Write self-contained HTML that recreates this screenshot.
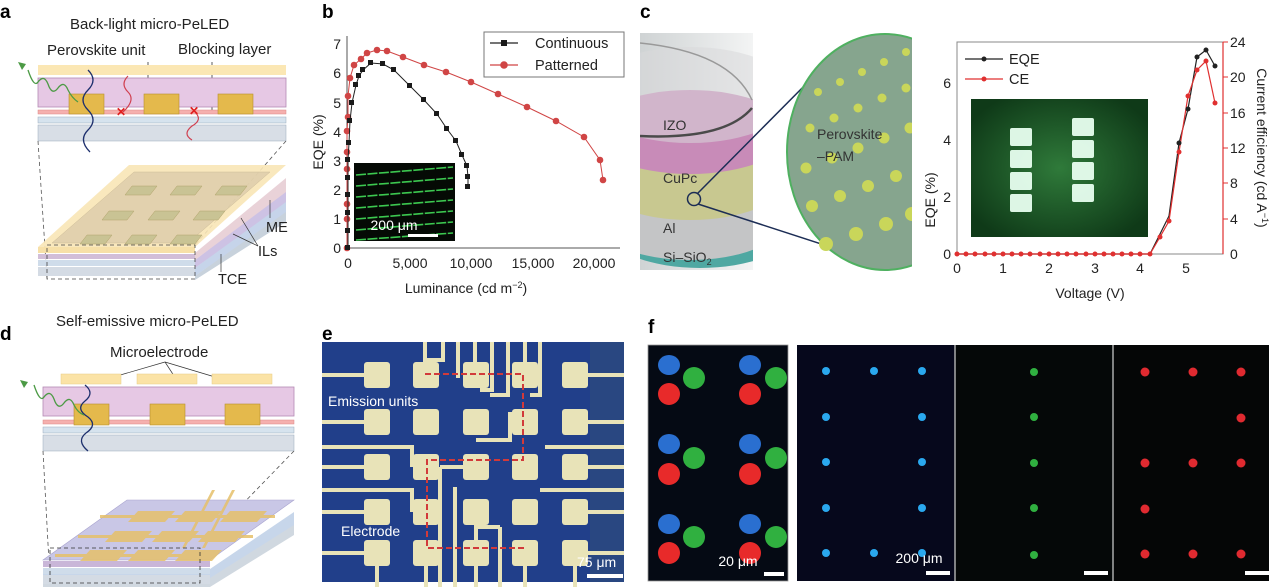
<!DOCTYPE html>
<html><head><meta charset="utf-8"><style>
body{margin:0;background:#fff}
svg{display:block;font-family:"Liberation Sans",sans-serif}
</style></head><body>
<svg width="1269" height="587" viewBox="0 0 1269 587" xmlns="http://www.w3.org/2000/svg">
<defs>
<radialGradient id="gl" cx="50%" cy="50%" r="60%"><stop offset="0" stop-color="#2f7a3a"/><stop offset="1" stop-color="#0f3a18"/></radialGradient>
<linearGradient id="gc" x1="0" x2="1"><stop offset="0" stop-color="#cfd3d4"/><stop offset="1" stop-color="#f3f4f4"/></linearGradient>
<clipPath id="cl"><rect x="640" y="33" width="113" height="237"/></clipPath>
</defs>
<g font-weight="bold" font-size="19" fill="#000">
<text x="0" y="18">a</text><text x="322" y="18">b</text><text x="640" y="18">c</text>
<text x="0" y="340">d</text><text x="322" y="340">e</text><text x="648" y="333">f</text>
</g>
<!-- Panel a -->
<g font-size="15" fill="#222">
<text x="70" y="29">Back-light micro-PeLED</text>
<text x="47" y="55">Perovskite unit</text>
<text x="178" y="54">Blocking layer</text>
</g>
<line x1="148" y1="62" x2="148" y2="97" stroke="#333" stroke-width="0.8"/>
<line x1="212" y1="62" x2="212" y2="111" stroke="#333" stroke-width="0.8"/>
<rect x="38" y="65" width="248" height="10" fill="#fbe7b4"/>
<rect x="38" y="78" width="248" height="29" fill="#e6c8e4" stroke="#b48ab4" stroke-width="0.8"/>
<rect x="38" y="110" width="248" height="4" fill="#f5b0ae" stroke="#d88" stroke-width="0.5"/>
<rect x="38" y="117" width="248" height="6" fill="#d6e3ee" stroke="#9ab" stroke-width="0.5"/>
<rect x="38" y="125" width="248" height="16" fill="#d8dee6" stroke="#9ab" stroke-width="0.5"/>
<g fill="#e4b94c" stroke="#b8902e" stroke-width="0.6">
<rect x="69" y="94" width="35" height="20"/><rect x="144" y="94" width="35" height="20"/><rect x="218" y="94" width="35" height="20"/>
</g>
<path d="M88 70 q10 10 0 20 q-10 10 0 20 q10 10 0 20 q-10 10 2 22" fill="none" stroke="#1d2f6d" stroke-width="1.3"/>
<path d="M128 76 q-8 8 0 16 q8 8 -5 20" fill="none" stroke="#d04050" stroke-width="1.2"/>
<path d="M195 112 q8 8 -3 14 q-10 8 0 14" fill="none" stroke="#d04050" stroke-width="1.2"/>
<path d="M78 102 q-6 -4 -10 -12 q-4 -10 -10 -2 q-6 8 -10 -4 q-4 -10 -10 -2 q-4 6 -10 -12" fill="none" stroke="#4c9a45" stroke-width="1.3"/>
<path d="M18 62 l4 8 l4 -6 z" fill="#4c9a45"/>
<text x="116" y="116" fill="#e02020" font-size="12" font-weight="bold">✕</text>
<text x="189" y="115" fill="#e02020" font-size="12" font-weight="bold">✕</text>
<line x1="38" y1="141" x2="47" y2="279" stroke="#555" stroke-dasharray="4,3" stroke-width="0.8"/>
<line x1="286" y1="141" x2="195" y2="245" stroke="#555" stroke-dasharray="4,3" stroke-width="0.8"/>
<!-- 3D stack a -->
<polygon points="195,276 286,210 286,222 195,280" fill="#c8d2dc"/>
<polygon points="195,268 286,200 286,212 195,276" fill="#c6d4ea"/>
<polygon points="195,260 286,190 286,202 195,268" fill="#cdc2e4"/>
<polygon points="195,253 286,178 286,192 195,260" fill="#e9d2d8"/>
<polygon points="38,247 195,247 286,165 129,165" fill="#f8e6b6" opacity="0.9"/>
<polygon points="52,243 188,243 270,172 134,172" fill="#d9c8a8" opacity="0.7" stroke="#b8a888" stroke-width="0.5"/>
<rect x="38" y="247" width="157" height="6" fill="#f7e0a8"/>
<rect x="38" y="254" width="157" height="5" fill="#d2bed8"/>
<rect x="38" y="260" width="157" height="6" fill="#cfdcea"/>
<rect x="38" y="267" width="157" height="9" fill="#d4dbe4"/>
<g fill="#c9c394" stroke="#b0a26a" stroke-width="0.5">
<polygon points="125,195 150,195 157,186 132,186"/><polygon points="170,195 195,195 202,186 177,186"/><polygon points="215,195 240,195 247,186 222,186"/>
<polygon points="102,220 127,220 134,211 109,211"/><polygon points="148,220 173,220 180,211 155,211"/><polygon points="193,220 218,220 225,211 200,211"/>
<polygon points="80,244 105,244 112,235 87,235"/><polygon points="125,244 150,244 157,235 132,235"/><polygon points="170,244 195,244 202,235 177,235"/>
</g>
<rect x="47" y="245" width="148" height="34" fill="none" stroke="#444" stroke-dasharray="4,3" stroke-width="0.8"/>
<g font-size="14.5" fill="#222"><text x="266" y="232">ME</text><text x="258" y="256">ILs</text><text x="218" y="284">TCE</text></g>
<line x1="270" y1="200" x2="270" y2="218" stroke="#333" stroke-width="0.7"/>
<line x1="258" y1="246" x2="241" y2="218" stroke="#333" stroke-width="0.7"/>
<line x1="258" y1="246" x2="233" y2="234" stroke="#333" stroke-width="0.7"/>
<line x1="221" y1="254" x2="221" y2="272" stroke="#333" stroke-width="0.7"/>

<!-- Panel b -->
<g stroke="#555" stroke-width="1" fill="none">
<line x1="347" y1="36" x2="347" y2="248"/><line x1="347" y1="248" x2="620" y2="248"/>
</g>
<g font-size="14" fill="#222" text-anchor="end">
<text x="341" y="253">0</text><text x="341" y="224">1</text><text x="341" y="195">2</text><text x="341" y="166">3</text><text x="341" y="137">4</text><text x="341" y="108">5</text><text x="341" y="78">6</text><text x="341" y="49">7</text>
</g>
<g font-size="14" fill="#222" text-anchor="middle">
<text x="348" y="268">0</text><text x="410" y="268">5,000</text><text x="471" y="268">10,000</text><text x="533" y="268">15,000</text><text x="594" y="268">20,000</text>
<text x="466" y="293">Luminance (cd m<tspan font-size="9" dy="-5">−2</tspan><tspan dy="5">)</tspan></text>
</g>
<text transform="translate(323 142) rotate(-90)" font-size="14" text-anchor="middle" fill="#222">EQE (%)</text>
<rect x="354" y="163" width="101" height="78" fill="#050a05"/>
<g stroke="#3cc850" stroke-width="1.6" stroke-dasharray="10,1.5">
<line x1="356" y1="175" x2="453" y2="167"/><line x1="356" y1="186" x2="453" y2="178"/><line x1="356" y1="197" x2="453" y2="189"/><line x1="356" y1="208" x2="453" y2="200"/><line x1="356" y1="219" x2="453" y2="211"/><line x1="356" y1="230" x2="453" y2="222"/><line x1="356" y1="240" x2="453" y2="233"/>
</g>
<text x="394" y="230" font-size="14" fill="#fff" text-anchor="middle">200 μm</text>
<rect x="408" y="234" width="30" height="3" fill="#fff"/>
<polyline fill="none" stroke="#d04545" stroke-width="1" points="347,248 347,219 347,204 347,169 347,152 347,131 348,117 348,96 350,78 354,65 361,59 367,53 377,50 387,51 403,57 424,65 446,72 471,82 498,94 527,107 556,121 584,137 600,160 603,180"/>
<g fill="#d04545">
<circle cx="347" cy="248" r="3.3"/><circle cx="347" cy="219" r="3.3"/><circle cx="347" cy="204" r="3.3"/><circle cx="347" cy="169" r="3.3"/><circle cx="347" cy="152" r="3.3"/><circle cx="347" cy="131" r="3.3"/><circle cx="348" cy="117" r="3.3"/><circle cx="348" cy="96" r="3.3"/><circle cx="350" cy="78" r="3.3"/><circle cx="354" cy="65" r="3.3"/><circle cx="361" cy="59" r="3.3"/><circle cx="367" cy="53" r="3.3"/><circle cx="377" cy="50" r="3.3"/><circle cx="387" cy="51" r="3.3"/><circle cx="403" cy="57" r="3.3"/><circle cx="424" cy="65" r="3.3"/><circle cx="446" cy="72" r="3.3"/><circle cx="471" cy="82" r="3.3"/><circle cx="498" cy="94" r="3.3"/><circle cx="527" cy="107" r="3.3"/><circle cx="556" cy="121" r="3.3"/><circle cx="584" cy="137" r="3.3"/><circle cx="600" cy="160" r="3.3"/><circle cx="603" cy="180" r="3.3"/>
</g>
<polyline fill="none" stroke="#222" stroke-width="1" points="348,248 348,231 348,213 348,195 348,178 348,160 349,143 350,121 352,103 356,85 359,76 363,70 371,63 383,64 394,70 410,86 424,100 437,114 447,129 456,141 462,155 467,166 468,177 468,187"/>
<g fill="#1a1a1a">
<rect x="345" y="245" width="5" height="5"/><rect x="345" y="228" width="5" height="5"/><rect x="345" y="210" width="5" height="5"/><rect x="345" y="192" width="5" height="5"/><rect x="345" y="175" width="5" height="5"/><rect x="345" y="157" width="5" height="5"/><rect x="346" y="140" width="5" height="5"/><rect x="347" y="118" width="5" height="5"/><rect x="349" y="100" width="5" height="5"/><rect x="353" y="82" width="5" height="5"/><rect x="356" y="73" width="5" height="5"/><rect x="360" y="67" width="5" height="5"/><rect x="368" y="60" width="5" height="5"/><rect x="380" y="61" width="5" height="5"/><rect x="391" y="67" width="5" height="5"/><rect x="407" y="83" width="5" height="5"/><rect x="421" y="97" width="5" height="5"/><rect x="434" y="111" width="5" height="5"/><rect x="444" y="126" width="5" height="5"/><rect x="453" y="138" width="5" height="5"/><rect x="459" y="152" width="5" height="5"/><rect x="464" y="163" width="5" height="5"/><rect x="465" y="174" width="5" height="5"/><rect x="465" y="184" width="5" height="5"/>
</g>
<rect x="484" y="32" width="140" height="45" fill="#fff" stroke="#777" stroke-width="1"/>
<line x1="490" y1="43" x2="518" y2="43" stroke="#222" stroke-width="1.2"/><rect x="501" y="40" width="6" height="6" fill="#1a1a1a"/>
<line x1="490" y1="65" x2="518" y2="65" stroke="#d04545" stroke-width="1.2"/><circle cx="504" cy="65" r="3.8" fill="#d04545"/>
<g font-size="14.5" fill="#222"><text x="535" y="48">Continuous</text><text x="535" y="70">Patterned</text></g>

<!-- Panel c left -->
<rect x="640" y="33" width="113" height="237" fill="url(#gc)"/>
<g clip-path="url(#cl)">
<ellipse cx="700" cy="232" rx="90" ry="36" fill="#4fa8a2"/>
<ellipse cx="690" cy="222" rx="92" ry="38" fill="#c4c5c6"/>
<ellipse cx="690" cy="180" rx="95" ry="40" fill="#c8c890"/>
<ellipse cx="690" cy="132" rx="100" ry="42" fill="#c88bb8"/>
<ellipse cx="690" cy="95" rx="105" ry="48" fill="#d8d9db" opacity="0.55"/>
<path d="M640 43 Q730 52 752 100" fill="none" stroke="#999" stroke-width="1.5"/>
<path d="M640 136 Q725 140 752 108" fill="none" stroke="#4a4a4a" stroke-width="2.5"/>
</g>
<g font-size="14" fill="#333"><text x="663" y="130">IZO</text><text x="663" y="183">CuPc</text><text x="663" y="233">Al</text><text x="663" y="262">Si–SiO<tspan font-size="9" dy="3">2</tspan></text></g>
<circle cx="694" cy="199" r="6.5" fill="none" stroke="#1c2d55" stroke-width="1.5"/>
<line x1="697" y1="194" x2="823" y2="67" stroke="#1c2d55" stroke-width="1.5"/>
<line x1="698" y1="204" x2="886" y2="265" stroke="#1c2d55" stroke-width="1.5"/>
<clipPath id="cc"><rect x="780" y="30" width="132" height="245"/></clipPath>
<g clip-path="url(#cc)">
<ellipse cx="885" cy="152" rx="98" ry="118" fill="#86a58e" stroke="#4fb060" stroke-width="2"/>
<g fill="#c9d65a">
<circle cx="818" cy="92" r="4"/><circle cx="840" cy="82" r="4"/><circle cx="862" cy="72" r="4"/><circle cx="884" cy="62" r="4"/><circle cx="906" cy="52" r="4"/>
<circle cx="810" cy="128" r="4.5"/><circle cx="834" cy="118" r="4.5"/><circle cx="858" cy="108" r="4.5"/><circle cx="882" cy="98" r="4.5"/><circle cx="906" cy="88" r="4.5"/>
<circle cx="806" cy="168" r="5.5"/><circle cx="832" cy="158" r="5.5"/><circle cx="858" cy="148" r="5.5"/><circle cx="884" cy="138" r="5.5"/><circle cx="910" cy="128" r="5.5"/>
<circle cx="812" cy="206" r="6"/><circle cx="840" cy="196" r="6"/><circle cx="868" cy="186" r="6"/><circle cx="896" cy="176" r="6"/>
<circle cx="826" cy="244" r="7"/><circle cx="856" cy="234" r="7"/><circle cx="886" cy="224" r="7"/><circle cx="912" cy="214" r="7"/>
</g>
</g>
<g font-size="14" fill="#333"><text x="817" y="139">Perovskite</text><text x="817" y="161">–PAM</text></g>

<!-- Panel c plot -->
<rect x="957" y="42" width="266" height="212" fill="none" stroke="#888" stroke-width="1"/>
<line x1="1223" y1="42" x2="1223" y2="254" stroke="#e03030" stroke-width="1.2"/>
<g stroke="#e03030"><line x1="1223" y1="42" x2="1228" y2="42"/><line x1="1223" y1="77" x2="1228" y2="77"/><line x1="1223" y1="113" x2="1228" y2="113"/><line x1="1223" y1="148" x2="1228" y2="148"/><line x1="1223" y1="183" x2="1228" y2="183"/><line x1="1223" y1="219" x2="1228" y2="219"/></g>
<g font-size="14" fill="#222" text-anchor="end"><text x="951" y="259">0</text><text x="951" y="202">2</text><text x="951" y="145">4</text><text x="951" y="88">6</text></g>
<g font-size="14" fill="#222"><text x="1230" y="259">0</text><text x="1230" y="224">4</text><text x="1230" y="188">8</text><text x="1230" y="153">12</text><text x="1230" y="118">16</text><text x="1230" y="82">20</text><text x="1230" y="47">24</text></g>
<g font-size="14" fill="#222" text-anchor="middle"><text x="957" y="273">0</text><text x="1003" y="273">1</text><text x="1049" y="273">2</text><text x="1095" y="273">3</text><text x="1140" y="273">4</text><text x="1186" y="273">5</text><text x="1090" y="298">Voltage (V)</text></g>
<text transform="translate(935 200) rotate(-90)" font-size="14" fill="#222" text-anchor="middle">EQE (%)</text>
<text transform="translate(1257 148) rotate(90)" font-size="14" fill="#222" text-anchor="middle">Current efficiency (cd A<tspan font-size="9" dy="-5">−1</tspan><tspan dy="5">)</tspan></text>
<rect x="971" y="99" width="177" height="138" fill="url(#gl)"/>
<g fill="#e8fff0" opacity="0.95">
<rect x="1010" y="128" width="22" height="18" rx="2"/><rect x="1010" y="150" width="22" height="18" rx="2"/><rect x="1010" y="172" width="22" height="18" rx="2"/><rect x="1010" y="194" width="22" height="18" rx="2"/>
<rect x="1072" y="118" width="22" height="18" rx="2"/><rect x="1072" y="140" width="22" height="18" rx="2"/><rect x="1072" y="162" width="22" height="18" rx="2"/><rect x="1072" y="184" width="22" height="18" rx="2"/>
</g>
<polyline fill="none" stroke="#222" stroke-width="1.2" points="957,254 1150,254 1160,234 1169,216 1179,143 1188,109 1197,57 1206,50 1215,66"/>
<polyline fill="none" stroke="#e03030" stroke-width="1.2" points="957,254 1150,254 1160,237 1169,221 1179,152 1188,96 1197,70 1206,61 1215,103"/>
<g fill="#e03030"><circle cx="957" cy="254" r="2.5"/><circle cx="966" cy="254" r="2.5"/><circle cx="975" cy="254" r="2.5"/><circle cx="985" cy="254" r="2.5"/><circle cx="994" cy="254" r="2.5"/><circle cx="1003" cy="254" r="2.5"/><circle cx="1012" cy="254" r="2.5"/><circle cx="1021" cy="254" r="2.5"/><circle cx="1030" cy="254" r="2.5"/><circle cx="1040" cy="254" r="2.5"/><circle cx="1049" cy="254" r="2.5"/><circle cx="1058" cy="254" r="2.5"/><circle cx="1067" cy="254" r="2.5"/><circle cx="1076" cy="254" r="2.5"/><circle cx="1086" cy="254" r="2.5"/><circle cx="1095" cy="254" r="2.5"/><circle cx="1104" cy="254" r="2.5"/><circle cx="1113" cy="254" r="2.5"/><circle cx="1122" cy="254" r="2.5"/><circle cx="1131" cy="254" r="2.5"/><circle cx="1140" cy="254" r="2.5"/><circle cx="1150" cy="254" r="2.5"/><circle cx="1160" cy="237" r="2.5"/><circle cx="1169" cy="221" r="2.5"/><circle cx="1179" cy="152" r="2.5"/><circle cx="1188" cy="96" r="2.5"/><circle cx="1197" cy="70" r="2.5"/><circle cx="1206" cy="61" r="2.5"/><circle cx="1215" cy="103" r="2.5"/></g>
<g fill="#222"><circle cx="1179" cy="143" r="2.5"/><circle cx="1188" cy="109" r="2.5"/><circle cx="1197" cy="57" r="2.5"/><circle cx="1206" cy="50" r="2.5"/><circle cx="1215" cy="66" r="2.5"/></g>
<line x1="965" y1="59" x2="1003" y2="59" stroke="#222" stroke-width="1.3"/><circle cx="984" cy="59" r="2.5" fill="#222"/>
<line x1="965" y1="79" x2="1003" y2="79" stroke="#e03030" stroke-width="1.3"/><circle cx="984" cy="79" r="2.5" fill="#e03030"/>
<g font-size="14.5" fill="#222"><text x="1009" y="64">EQE</text><text x="1009" y="84">CE</text></g>

<!-- Panel d -->
<g font-size="15" fill="#222"><text x="56" y="326">Self-emissive micro-PeLED</text><text x="110" y="357">Microelectrode</text></g>
<line x1="165" y1="362" x2="110" y2="378" stroke="#333" stroke-width="0.7"/>
<line x1="165" y1="362" x2="178" y2="382" stroke="#333" stroke-width="0.7"/>
<line x1="165" y1="362" x2="225" y2="380" stroke="#333" stroke-width="0.7"/>
<g fill="#fbe3a6" stroke="#e8cc84" stroke-width="0.5"><rect x="61" y="374" width="60" height="10"/><rect x="137" y="374" width="60" height="10"/><rect x="212" y="374" width="60" height="10"/></g>
<rect x="43" y="387" width="251" height="29" fill="#e6c8e4" stroke="#b48ab4" stroke-width="0.8"/>
<rect x="43" y="420" width="251" height="4" fill="#f5b0ae" stroke="#d88" stroke-width="0.5"/>
<rect x="43" y="427" width="251" height="6" fill="#d6e3ee" stroke="#9ab" stroke-width="0.5"/>
<rect x="43" y="435" width="251" height="16" fill="#d8dee6" stroke="#9ab" stroke-width="0.5"/>
<g fill="#e4b94c" stroke="#b8902e" stroke-width="0.6"><rect x="74" y="404" width="35" height="21"/><rect x="150" y="404" width="35" height="21"/><rect x="225" y="404" width="35" height="21"/></g>
<path d="M85 385 q10 8 0 16 q-10 8 3 16 q10 8 -2 16 q-10 8 2 18" fill="none" stroke="#1d2f6d" stroke-width="1.3"/>
<path d="M84 415 q-6 -2 -10 -10 q-4 -10 -10 -2 q-6 8 -10 -4 q-4 -10 -10 -2 q-4 6 -10 -12" fill="none" stroke="#4c9a45" stroke-width="1.3"/>
<path d="M20 380 l4 8 l4 -6 z" fill="#4c9a45"/>
<line x1="43" y1="451" x2="50" y2="581" stroke="#555" stroke-dasharray="4,3" stroke-width="0.8"/>
<line x1="294" y1="451" x2="200" y2="548" stroke="#555" stroke-dasharray="4,3" stroke-width="0.8"/>
<polygon points="43,577 210,577 294,520 294,535 210,587 43,587" fill="#d0d8e0"/>
<polygon points="43,569 210,569 294,512 294,525 210,578 43,578" fill="#c7d6ea"/>
<polygon points="43,560 210,560 294,500 127,500" fill="#c9c7e6" stroke="#a9a4cf" stroke-width="0.6"/>
<rect x="43" y="561" width="167" height="6" fill="#c9b6d8"/>
<rect x="43" y="568" width="167" height="6" fill="#cfdcea"/>
<rect x="43" y="575" width="167" height="9" fill="#d4dbe4"/>
<g fill="#e6c06a" opacity="0.85">
<polygon points="128,522 165,522 175,511 138,511"/><polygon points="175,522 212,522 222,511 185,511"/><polygon points="220,522 257,522 267,511 230,511"/>
<polygon points="105,542 142,542 152,531 115,531"/><polygon points="152,542 189,542 199,531 162,531"/><polygon points="198,542 235,542 245,531 208,531"/>
<polygon points="80,561 117,561 127,550 90,550"/><polygon points="128,561 165,561 175,550 138,550"/><polygon points="175,561 212,561 222,550 185,550"/>
<rect x="100" y="515" width="175" height="3"/><rect x="78" y="535" width="175" height="3"/><rect x="55" y="554" width="150" height="3"/>
<polygon points="212,490 215,490 185,548 182,548"/><polygon points="232,490 235,490 205,548 202,548"/>
</g>
<rect x="50" y="548" width="150" height="35" fill="none" stroke="#333" stroke-dasharray="4,3" stroke-width="0.8"/>

<!-- Panel e -->
<rect x="322" y="342" width="302" height="240" fill="#213f8a"/>
<rect x="590" y="342" width="34" height="240" fill="#2c4a7e" opacity="0.8"/>
<g fill="#e8e3b8">
<g stroke="#e8e3b8" fill="none" stroke-width="4">
<path d="M425 342 V375"/><path d="M443 342 V360 H425"/><path d="M458 342 V378"/><path d="M475 342 V375"/><path d="M492 342 V390 H480"/><path d="M508 342 V395 H490"/><path d="M525 342 V375"/><path d="M540 342 V395 H530"/>
<path d="M322 375 H377"/><path d="M322 422 H377"/><path d="M322 467 H377"/><path d="M322 512 H377"/><path d="M322 553 H377"/>
<path d="M580 375 H624"/><path d="M580 422 H624"/><path d="M580 467 H624"/><path d="M580 512 H624"/><path d="M580 553 H624"/>
<path d="M322 447 H412 V467"/><path d="M322 490 H412 V512"/><path d="M545 447 H624"/><path d="M540 490 H624"/>
<path d="M440 467 V587"/><path d="M455 487 V587"/><path d="M476 512 V587"/><path d="M500 527 V587"/><path d="M525 553 V587"/><path d="M426 553 V587"/><path d="M377 553 V587"/><path d="M575 553 V587"/>
<path d="M440 467 H476"/><path d="M500 527 H476"/><path d="M510 412 V440 H476"/>
</g>
<rect x="364" y="362" width="26" height="26" rx="3"/><rect x="413" y="362" width="26" height="26" rx="3"/><rect x="463" y="362" width="26" height="26" rx="3"/><rect x="512" y="362" width="26" height="26" rx="3"/><rect x="562" y="362" width="26" height="26" rx="3"/>
<rect x="364" y="409" width="26" height="26" rx="3"/><rect x="413" y="409" width="26" height="26" rx="3"/><rect x="463" y="409" width="26" height="26" rx="3"/><rect x="512" y="409" width="26" height="26" rx="3"/><rect x="562" y="409" width="26" height="26" rx="3"/>
<rect x="364" y="454" width="26" height="26" rx="3"/><rect x="413" y="454" width="26" height="26" rx="3"/><rect x="463" y="454" width="26" height="26" rx="3"/><rect x="512" y="454" width="26" height="26" rx="3"/><rect x="562" y="454" width="26" height="26" rx="3"/>
<rect x="364" y="499" width="26" height="26" rx="3"/><rect x="413" y="499" width="26" height="26" rx="3"/><rect x="463" y="499" width="26" height="26" rx="3"/><rect x="512" y="499" width="26" height="26" rx="3"/><rect x="562" y="499" width="26" height="26" rx="3"/>
<rect x="364" y="540" width="26" height="26" rx="3"/><rect x="413" y="540" width="26" height="26" rx="3"/><rect x="463" y="540" width="26" height="26" rx="3"/><rect x="512" y="540" width="26" height="26" rx="3"/><rect x="562" y="540" width="26" height="26" rx="3"/>
</g>
<path d="M425 374 H523 V460 H427 V548 H527" fill="none" stroke="#d23a3a" stroke-width="2" stroke-dasharray="6,3"/>
<g font-size="14" fill="#fff"><text x="328" y="406">Emission units</text><text x="341" y="536">Electrode</text><text x="577" y="567">75 μm</text></g>
<rect x="587" y="574" width="36" height="4" fill="#fff"/>

<!-- Panel f -->
<rect x="648" y="345" width="140" height="236" fill="#050a14" stroke="#999" stroke-width="0.8"/>
<g fill="#2a6fd0"><ellipse cx="669" cy="365" rx="11" ry="10"/><ellipse cx="750" cy="365" rx="11" ry="10"/><ellipse cx="669" cy="444" rx="11" ry="10"/><ellipse cx="750" cy="444" rx="11" ry="10"/><ellipse cx="669" cy="524" rx="11" ry="10"/><ellipse cx="750" cy="524" rx="11" ry="10"/></g>
<g fill="#30b040"><ellipse cx="694" cy="378" rx="11" ry="11"/><ellipse cx="776" cy="378" rx="11" ry="11"/><ellipse cx="694" cy="458" rx="11" ry="11"/><ellipse cx="776" cy="458" rx="11" ry="11"/><ellipse cx="694" cy="537" rx="11" ry="11"/><ellipse cx="776" cy="537" rx="11" ry="11"/></g>
<g fill="#e82a2a"><ellipse cx="669" cy="394" rx="11" ry="11"/><ellipse cx="750" cy="394" rx="11" ry="11"/><ellipse cx="669" cy="474" rx="11" ry="11"/><ellipse cx="750" cy="474" rx="11" ry="11"/><ellipse cx="669" cy="553" rx="11" ry="11"/><ellipse cx="750" cy="553" rx="11" ry="11"/></g>
<text x="738" y="566" font-size="14" fill="#fff" text-anchor="middle">20 μm</text>
<rect x="764" y="572" width="20" height="4" fill="#fff"/>
<rect x="797" y="345" width="158" height="236" fill="#06081c"/>
<rect x="955" y="345" width="158" height="236" fill="#050808"/>
<rect x="1113" y="345" width="156" height="236" fill="#050606"/>
<g stroke="#aaa" stroke-width="1.5"><line x1="955" y1="345" x2="955" y2="581"/><line x1="1113" y1="345" x2="1113" y2="581"/></g>
<g fill="#2aa8ee"><circle cx="826" cy="371" r="4"/><circle cx="874" cy="371" r="4"/><circle cx="922" cy="371" r="4"/><circle cx="826" cy="417" r="4"/><circle cx="922" cy="417" r="4"/><circle cx="826" cy="462" r="4"/><circle cx="922" cy="462" r="4"/><circle cx="826" cy="508" r="4"/><circle cx="922" cy="508" r="4"/><circle cx="826" cy="553" r="4"/><circle cx="874" cy="553" r="4"/><circle cx="922" cy="553" r="4"/></g>
<g fill="#30b040"><circle cx="1034" cy="372" r="4"/><circle cx="1034" cy="417" r="4"/><circle cx="1034" cy="463" r="4"/><circle cx="1034" cy="508" r="4"/><circle cx="1034" cy="555" r="4"/></g>
<g fill="#e02a30"><circle cx="1145" cy="372" r="4.5"/><circle cx="1193" cy="372" r="4.5"/><circle cx="1241" cy="372" r="4.5"/><circle cx="1241" cy="418" r="4.5"/><circle cx="1145" cy="463" r="4.5"/><circle cx="1193" cy="463" r="4.5"/><circle cx="1241" cy="463" r="4.5"/><circle cx="1145" cy="509" r="4.5"/><circle cx="1145" cy="554" r="4.5"/><circle cx="1193" cy="554" r="4.5"/><circle cx="1241" cy="554" r="4.5"/></g>
<text x="919" y="563" font-size="14" fill="#fff" text-anchor="middle">200 μm</text>
<rect x="926" y="571" width="24" height="4" fill="#fff"/><rect x="1084" y="571" width="24" height="4" fill="#fff"/><rect x="1245" y="571" width="24" height="4" fill="#fff"/>
</svg>
</body></html>
